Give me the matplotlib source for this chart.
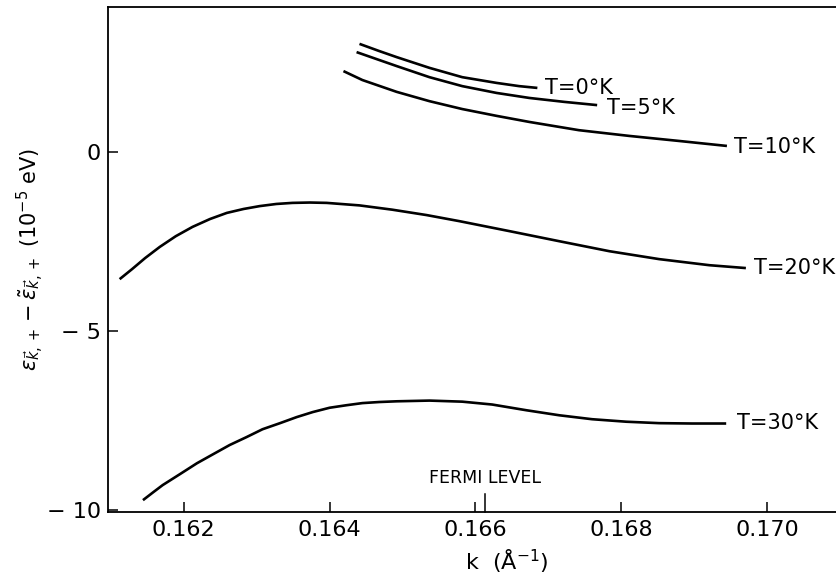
import matplotlib
matplotlib.use("Agg")
import matplotlib.pyplot as plt

plt.rcParams['font.family'] = ['DejaVu Sans']
plt.rcParams['mathtext.fontset'] = 'dejavusans'

# curves: k in 1/Angstrom, energy in 1e-5 eV
k_t0 = [0.16441, 0.16468, 0.16492, 0.16537, 0.16582, 0.16629, 0.16660, 0.16685]
e_t0 = [3.02, 2.82, 2.65, 2.35, 2.09, 1.93, 1.84, 1.79]

k_t5 = [0.16437, 0.16468, 0.16492, 0.16537, 0.16582, 0.16629, 0.16674,
        0.16722, 0.16767]
e_t5 = [2.79, 2.57, 2.40, 2.09, 1.84, 1.65, 1.51, 1.40, 1.31]

k_t10 = [0.16419, 0.16445, 0.16492, 0.16537, 0.16582, 0.16629, 0.16674,
         0.16742, 0.16811, 0.16879, 0.16945]
e_t10 = [2.26, 2.01, 1.68, 1.42, 1.20, 1.01, 0.84, 0.61, 0.45, 0.31, 0.17]

k_t20 = [0.16112, 0.16129, 0.16147, 0.16167, 0.16189, 0.16212, 0.16236,
         0.16259, 0.16282, 0.16304, 0.16327, 0.16349, 0.16373, 0.16396,
         0.16441, 0.16486, 0.16533, 0.16578, 0.16647, 0.16715, 0.16784,
         0.16852, 0.16921, 0.16971]
e_t20 = [-3.55, -3.27, -2.96, -2.65, -2.35, -2.09, -1.87, -1.70, -1.59,
         -1.51, -1.45, -1.42, -1.41, -1.42, -1.49, -1.61, -1.76, -1.93,
         -2.21, -2.49, -2.77, -2.99, -3.16, -3.24]

k_t30 = [0.16144, 0.16158, 0.16171, 0.16195, 0.16218, 0.16240, 0.16263,
         0.16286, 0.16308, 0.16332, 0.16355, 0.16377, 0.16400, 0.16423,
         0.16445, 0.16468, 0.16492, 0.16537, 0.16582, 0.16623, 0.16670,
         0.16715, 0.16760, 0.16807, 0.16852, 0.16897, 0.16944]
e_t30 = [-9.72, -9.50, -9.30, -8.99, -8.69, -8.44, -8.18, -7.96, -7.74,
         -7.57, -7.40, -7.26, -7.14, -7.07, -7.01, -6.98, -6.96, -6.94,
         -6.97, -7.05, -7.21, -7.35, -7.46, -7.53, -7.57, -7.58, -7.58]

labels = ['T=0°K', 'T=5°K', 'T=10°K', 'T=20°K', 'T=30°K']
label_k = [0.16695, 0.16781, 0.16955, 0.16982, 0.16959]
label_e = [1.79, 1.23, 0.14, -3.24, -7.57]

x_ticks = [0.162, 0.164, 0.166, 0.168, 0.170]
x_ticklabels = ['0.162', '0.164', '0.166', '0.168', '0.170']
y_ticks = [-10, -5, 0]
y_ticklabels = ['\u2212 10', '\u2212 5', '0']
fermi_k = 0.16613

fig = plt.figure(figsize=(8.37, 5.77), dpi=100)
ax = fig.add_axes([0.129, 0.1127, 0.871, 0.8752])

curves = [(k_t0, e_t0), (k_t5, e_t5), (k_t10, e_t10), (k_t20, e_t20), (k_t30, e_t30)]
for (kk, ee) in curves:
    ax.plot(kk, ee, color='black', lw=1.9, solid_capstyle='butt',
            solid_joinstyle='round')

for txt, kx, ey in zip(labels, label_k, label_e):
    ax.text(kx, ey, txt, fontsize=15, ha='left', va='center')

ax.text(fermi_k, -9.1, 'FERMI LEVEL', fontsize=12.5, ha='center', va='center')

ax.set_xlim(0.16096, 0.17096)
ax.set_ylim(-10.05, 4.05)

ax.set_xticks(x_ticks)
ax.set_xticklabels(x_ticklabels)
ax.set_yticks(y_ticks)
ax.set_yticklabels(y_ticklabels)
ax.tick_params(direction='in', length=7, width=1.1, labelsize=16, pad=6)
ax.tick_params(axis='y', pad=5)

# longer mark for the Fermi level
ax.plot([fermi_k, fermi_k], [0, 0.035], transform=ax.get_xaxis_transform(),
        color='black', lw=1.1, clip_on=False)

ax.spines['right'].set_visible(False)
for s in ['top', 'left', 'bottom']:
    ax.spines[s].set_linewidth(1.3)

ax.set_xlabel(r'k  ($\mathrm{\AA}^{-1}$)', fontsize=16)
ax.xaxis.set_label_coords(0.547, -0.07)
ax.set_ylabel(r'$\varepsilon_{\vec{k},+} - \tilde{\epsilon}_{\vec{k},+}$ $(10^{-5}$ eV$)$',
              fontsize=15)
ax.yaxis.set_label_coords(-0.085, 0.5)

fig.savefig('out.png', dpi=100)
